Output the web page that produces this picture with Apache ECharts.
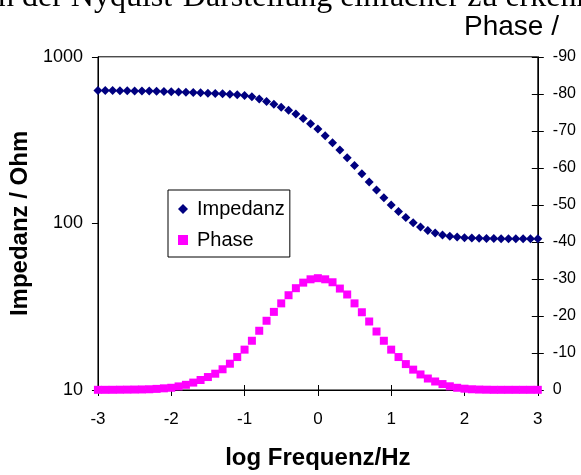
<!DOCTYPE html>
<html>
<head>
<meta charset="utf-8">
<script src="https://cdn.jsdelivr.net/npm/echarts@6/dist/echarts.min.js"></script>
<style>
html,body{margin:0;padding:0;background:#fff;}
#c{width:581px;height:475px;}
</style>
</head>
<body>
<div id="c"></div>
<script>
const logFreq = [-3.0,-2.9,-2.8,-2.7,-2.6,-2.5,-2.4,-2.3,-2.2,-2.1,-2.0,-1.9,-1.8,-1.7,-1.6,-1.5,-1.4,-1.3,-1.2,-1.1,-1.0,-0.9,-0.8,-0.7,-0.6,-0.5,-0.4,-0.3,-0.2,-0.1,0.0,0.1,0.2,0.3,0.4,0.5,0.6,0.7,0.8,0.9,1.0,1.1,1.2,1.3,1.4,1.5,1.6,1.7,1.8,1.9,2.0,2.1,2.2,2.3,2.4,2.5,2.6,2.7,2.8,2.9,3.0];
const impedanz = [627.1,627.1,627.1,626.1,625.3,624.4,623.6,622.7,621.0,619.3,617.6,615.1,612.6,610.1,607.6,605.1,602.6,600.1,596.9,592.1,585.6,575.3,558.3,539.6,519.4,498.5,477.2,453.1,426.1,397.0,368.2,335.6,305.0,275.7,247.9,222.3,198.5,177.5,158.5,142.6,129.1,117.8,108.6,101.0,95.1,90.7,87.5,85.3,83.8,82.8,82.1,81.6,81.4,81.2,81.1,81.0,81.0,81.0,81.0,81.0,81.0];
const phase = [-0.05,-0.05,-0.06,-0.08,-0.1,-0.12,-0.15,-0.2,-0.3,-0.45,-0.6,-0.97,-1.4,-2.0,-2.7,-3.5,-4.4,-5.6,-7.1,-8.9,-10.9,-13.3,-16.0,-18.7,-21.1,-23.4,-25.6,-27.5,-29.0,-29.9,-30.2,-29.9,-29.1,-27.4,-25.8,-23.4,-21.0,-18.5,-15.8,-13.3,-10.9,-8.9,-7.0,-5.5,-4.2,-3.1,-2.3,-1.6,-1.0,-0.6,-0.35,-0.2,-0.12,-0.08,-0.05,-0.05,-0.05,-0.05,-0.05,-0.05,-0.05];
const xTicks = ['-3','-2','-1','0','1','2','3'];
const leftTicks = ['10','100','1000'];
const rightTicks = ['-90','-80','-70','-60','-50','-40','-30','-20','-10','0'];

const FONT = 'Liberation Sans, Arial, sans-serif';
const chart = echarts.init(document.getElementById('c'));
const impData = logFreq.map((x,i)=>[x, impedanz[i]]);
const phData = logFreq.map((x,i)=>[x, phase[i]]);

chart.setOption({
  animation:false,
  backgroundColor:'#fff',
  textStyle:{fontFamily:FONT,color:'#000'},
  grid:{left:90.8,right:43.2,top:56.8,bottom:80.7,show:true,borderColor:'#000',borderWidth:1,backgroundColor:'transparent'},
  graphic:[
    {type:'text',left:-2,top:-18,style:{text:'n der Nyquist-Darstellung einfacher zu erkennen',font:'32px "Liberation Serif", serif',fill:'#000'}},
    {type:'text',left:464,top:13,style:{text:'Phase /',font:'28px "Liberation Sans", Arial, sans-serif',fill:'#000'}}
  ],
  legend:{
    orient:'vertical',left:168,top:190,
    padding:[9,5,7,10],itemGap:11,itemWidth:10,itemHeight:10,
    borderColor:'#000',borderWidth:1,backgroundColor:'#fff',
    textStyle:{fontSize:20,color:'#000',fontFamily:FONT,padding:[0,0,0,4]},
    data:[{name:'Impedanz',icon:'diamond'},{name:'Phase',icon:'rect'}]
  },
  xAxis:[{
    type:'value',min:-3,max:3,interval:1,position:'bottom',
    name:'log Frequenz/Hz',nameLocation:'middle',nameGap:56,
    nameTextStyle:{fontSize:24,fontWeight:'bold',color:'#000',fontFamily:FONT},
    axisLine:{show:true,onZero:false,lineStyle:{color:'#000',width:1}},
    axisTick:{show:true,inside:false,length:6,lineStyle:{color:'#000'}},
    axisLabel:{fontSize:17,color:'#000',margin:21,fontFamily:FONT,formatter:(v)=>xTicks[Math.round(v)+3]},
    splitLine:{show:false}
  },{
    type:'value',min:-3,max:3,interval:1,position:'bottom',
    axisLine:{show:false,onZero:false},
    axisTick:{show:true,inside:true,length:5,lineStyle:{color:'#000'}},
    axisLabel:{show:false},splitLine:{show:false}
  }],
  yAxis:[{
    type:'log',logBase:10,min:10,max:1000,position:'left',
    name:'Impedanz / Ohm',nameLocation:'middle',nameGap:58,nameRotate:90,
    nameTextStyle:{fontSize:24,fontWeight:'bold',color:'#000',fontFamily:FONT},
    axisLine:{show:true,onZero:false,lineStyle:{color:'#000',width:1}},
    axisTick:{show:true,inside:false,length:6,lineStyle:{color:'#000'}},
    axisLabel:{fontSize:18,color:'#000',margin:15,fontFamily:FONT,formatter:(v)=>leftTicks[Math.round(Math.log10(v))-1]},
    splitLine:{show:false},minorTick:{show:false}
  },{
    type:'value',min:-90,max:0,interval:10,inverse:true,position:'right',
    axisLine:{show:true,onZero:false,lineStyle:{color:'#000',width:1}},
    axisTick:{show:true,inside:false,length:6,lineStyle:{color:'#000'}},
    axisLabel:{fontSize:16,color:'#000',margin:15,fontFamily:FONT,formatter:(v)=>rightTicks[Math.round(v/10)+9]},
    splitLine:{show:false}
  },{
    type:'value',min:-90,max:0,interval:10,inverse:true,position:'right',
    axisLine:{show:false,onZero:false},
    axisTick:{show:true,inside:true,length:6,lineStyle:{color:'#000'}},
    axisLabel:{show:false},splitLine:{show:false}
  }],
  series:[{
    name:'Impedanz',type:'line',xAxisIndex:0,yAxisIndex:0,data:impData,
    lineStyle:{width:0,opacity:0},symbol:'diamond',symbolSize:[9,9],
    itemStyle:{color:'#000080'},clip:false,z:3
  },{
    name:'Phase',type:'line',xAxisIndex:0,yAxisIndex:1,data:phData,
    lineStyle:{width:0,opacity:0},symbol:'rect',symbolSize:[8,8],
    itemStyle:{color:'#FF00FF'},clip:false,z:4
  }]
});
</script>
</body>
</html>
